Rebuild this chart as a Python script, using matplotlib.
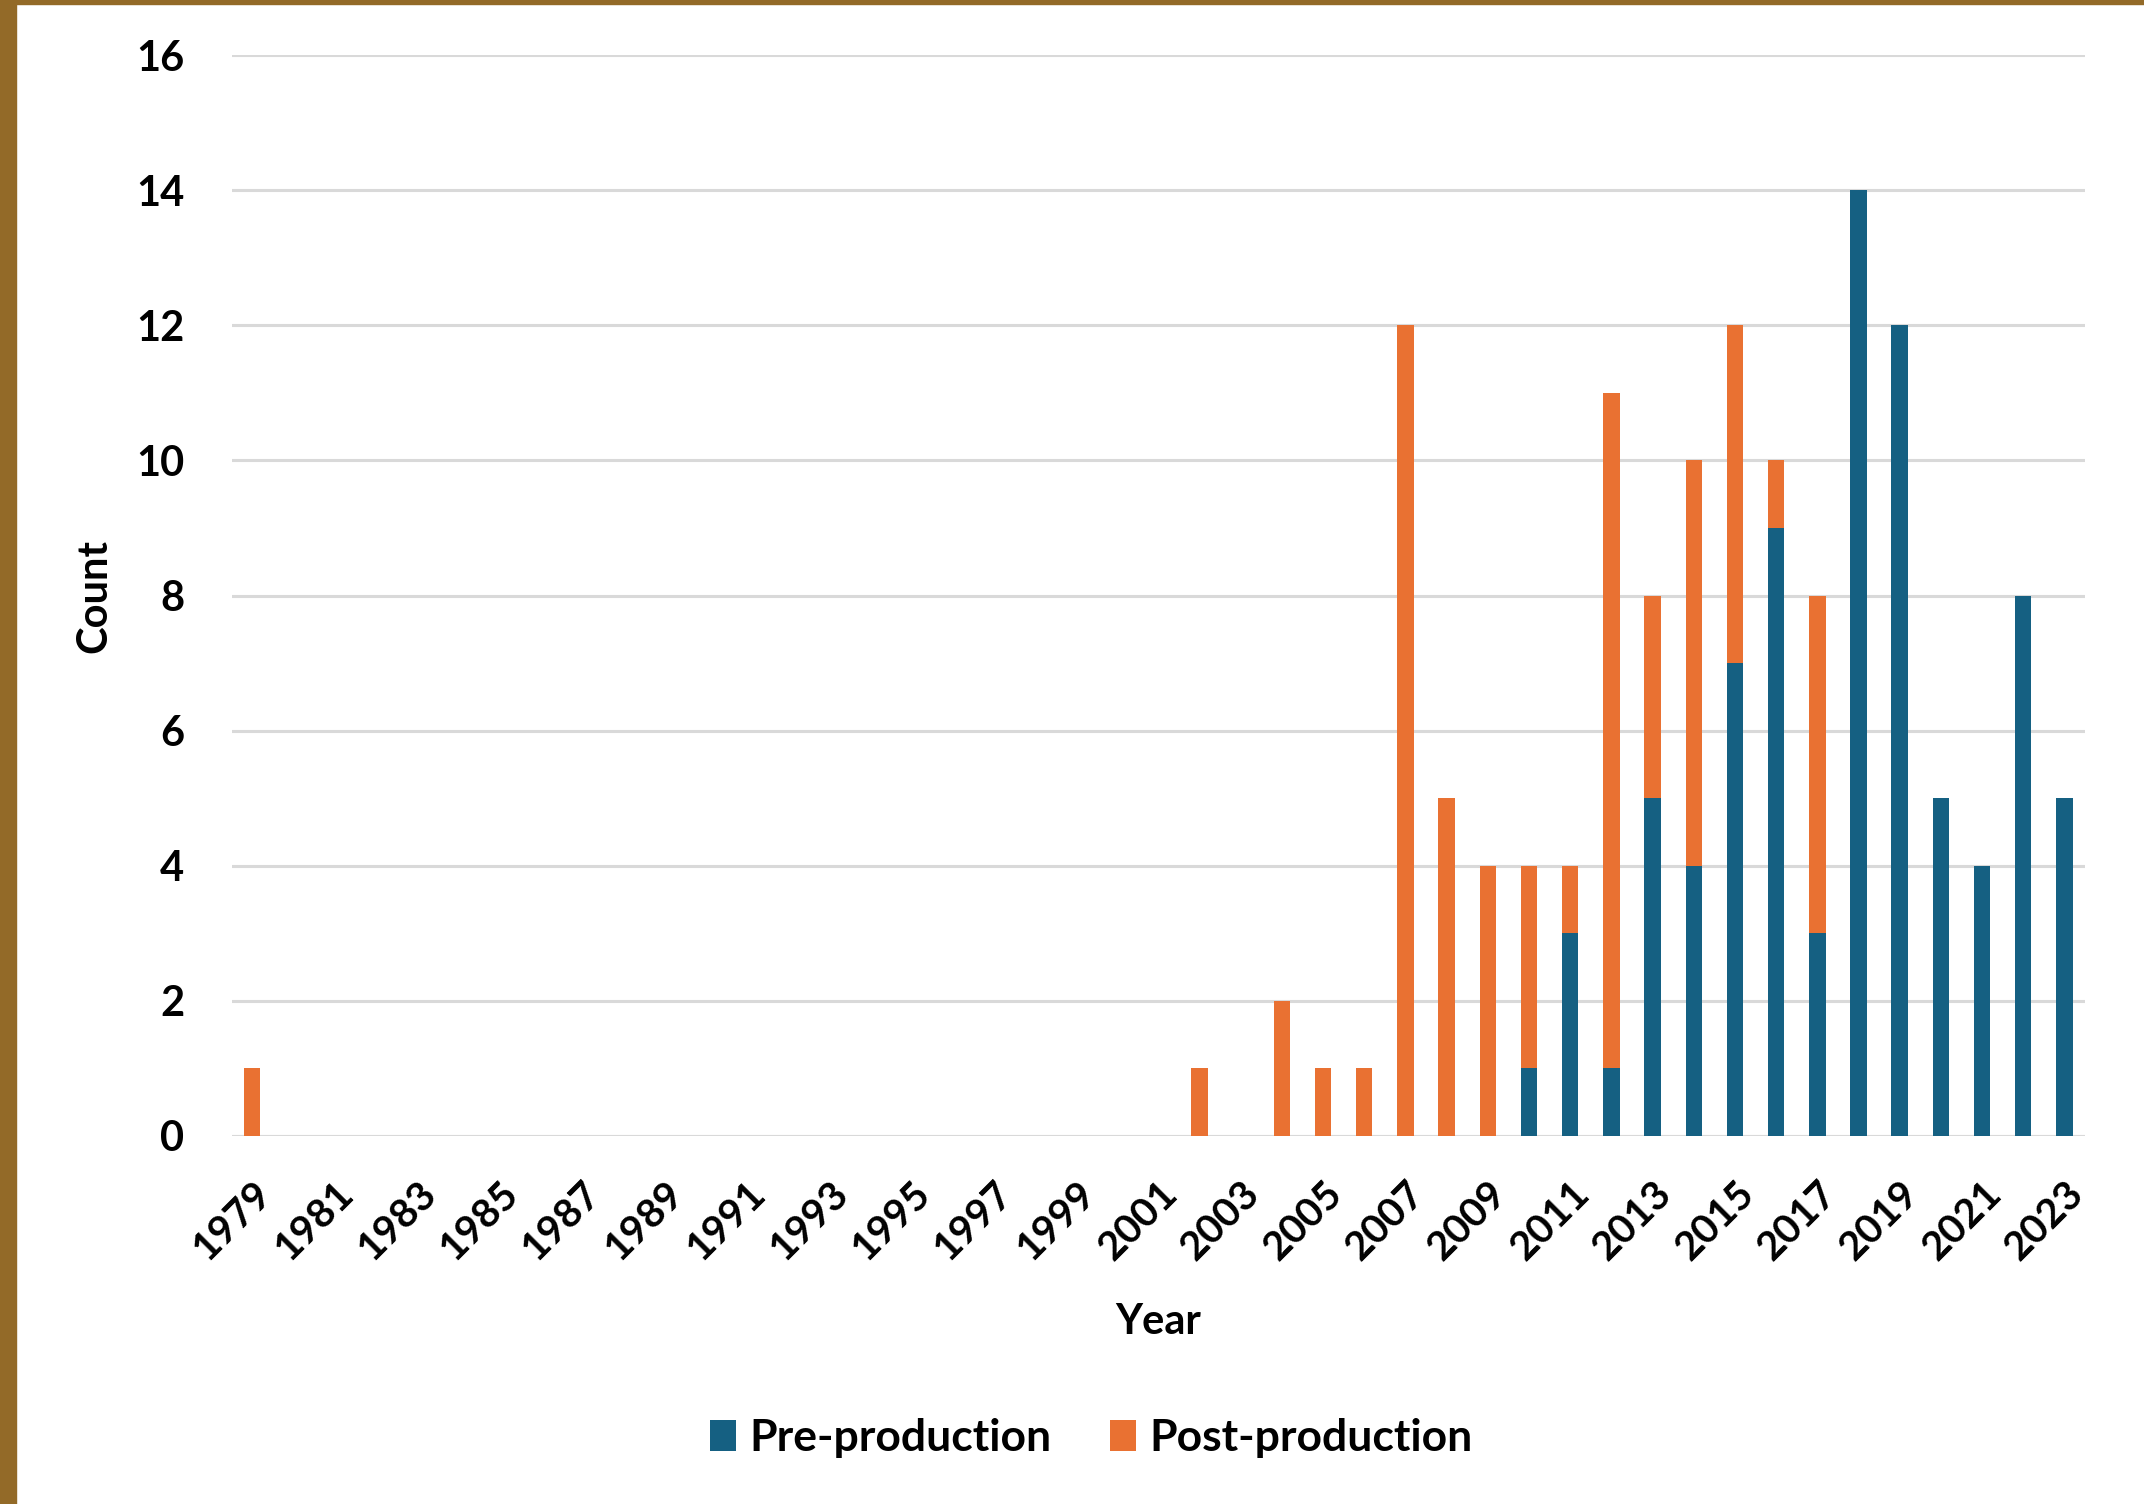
import matplotlib
matplotlib.use("Agg")
import matplotlib.pyplot as plt
from matplotlib.patches import Rectangle
import numpy as np

plt.rcParams['font.family'] = ['Lato', 'DejaVu Sans']

years = list(range(1979, 2024))
# Non-zero counts by year; all other years are zero
pre_counts = {2010: 1, 2011: 3, 2012: 1, 2013: 5, 2014: 4, 2015: 7, 2016: 9,
              2017: 3, 2018: 14, 2019: 12, 2020: 5, 2021: 4, 2022: 8, 2023: 5}
post_counts = {1979: 1, 2002: 1, 2004: 2, 2005: 1, 2006: 1, 2007: 12, 2008: 5,
               2009: 4, 2010: 3, 2011: 1, 2012: 10, 2013: 3, 2014: 6, 2015: 5,
               2016: 1, 2017: 5}
tick_labels = [str(y) for y in years[::2]]

pre = np.array([pre_counts.get(y, 0) for y in years])
post = np.array([post_counts.get(y, 0) for y in years])

blue = '#156082'
orange = '#E97132'

fig = plt.figure(figsize=(21.44, 15.04), dpi=100)
ax = fig.add_axes([0.108, 0.2447, 0.8645, 0.7187])

x = np.arange(len(years))
ax.bar(x, pre, width=0.4, color=blue, label='Pre-production', zorder=3)
ax.bar(x, post, width=0.4, bottom=pre, color=orange, label='Post-production', zorder=3)

ax.set_xlim(-0.5, len(years) - 0.5)
ax.set_ylim(0, 16)
ax.set_yticks(range(0, 17, 2))
ax.yaxis.grid(True, color='#d9d9d9', linewidth=2.2, zorder=0)
ax.set_axisbelow(True)
for s in ax.spines.values():
    s.set_visible(False)
ax.axhline(0, color='#d9d9d9', linewidth=2.2, zorder=1)

ax.set_xticks(x[::2])
ax.set_xticklabels(tick_labels, rotation=45, ha='right', rotation_mode='anchor',
                   fontsize=29, fontweight='bold')
ax.tick_params(axis='x', length=0, pad=28)
ax.tick_params(axis='y', length=0, pad=34, labelsize=30)
for lbl in ax.get_yticklabels():
    lbl.set_fontweight('bold')

ax.set_xlabel('Year', fontsize=30, fontweight='bold', labelpad=26)
ax.set_ylabel('Count', fontsize=30, fontweight='bold', labelpad=16)

leg = fig.legend(loc='center', bbox_to_anchor=(0.509, 0.044), ncol=2, frameon=False,
                 fontsize=32, handlelength=0.6, handleheight=0.7,
                 columnspacing=1.3, handletextpad=0.3)
for t in leg.get_texts():
    t.set_fontweight('bold')

# Frame strips along the left and top edges
fig.patches.append(Rectangle((0, 0), 16 / 2144, 1, transform=fig.transFigure,
                             color='#936A28', zorder=10))
fig.patches.append(Rectangle((0, 1 - 4 / 1504), 1, 4 / 1504, transform=fig.transFigure,
                             color='#936A28', zorder=10))

fig.savefig('out.png', dpi=100)
